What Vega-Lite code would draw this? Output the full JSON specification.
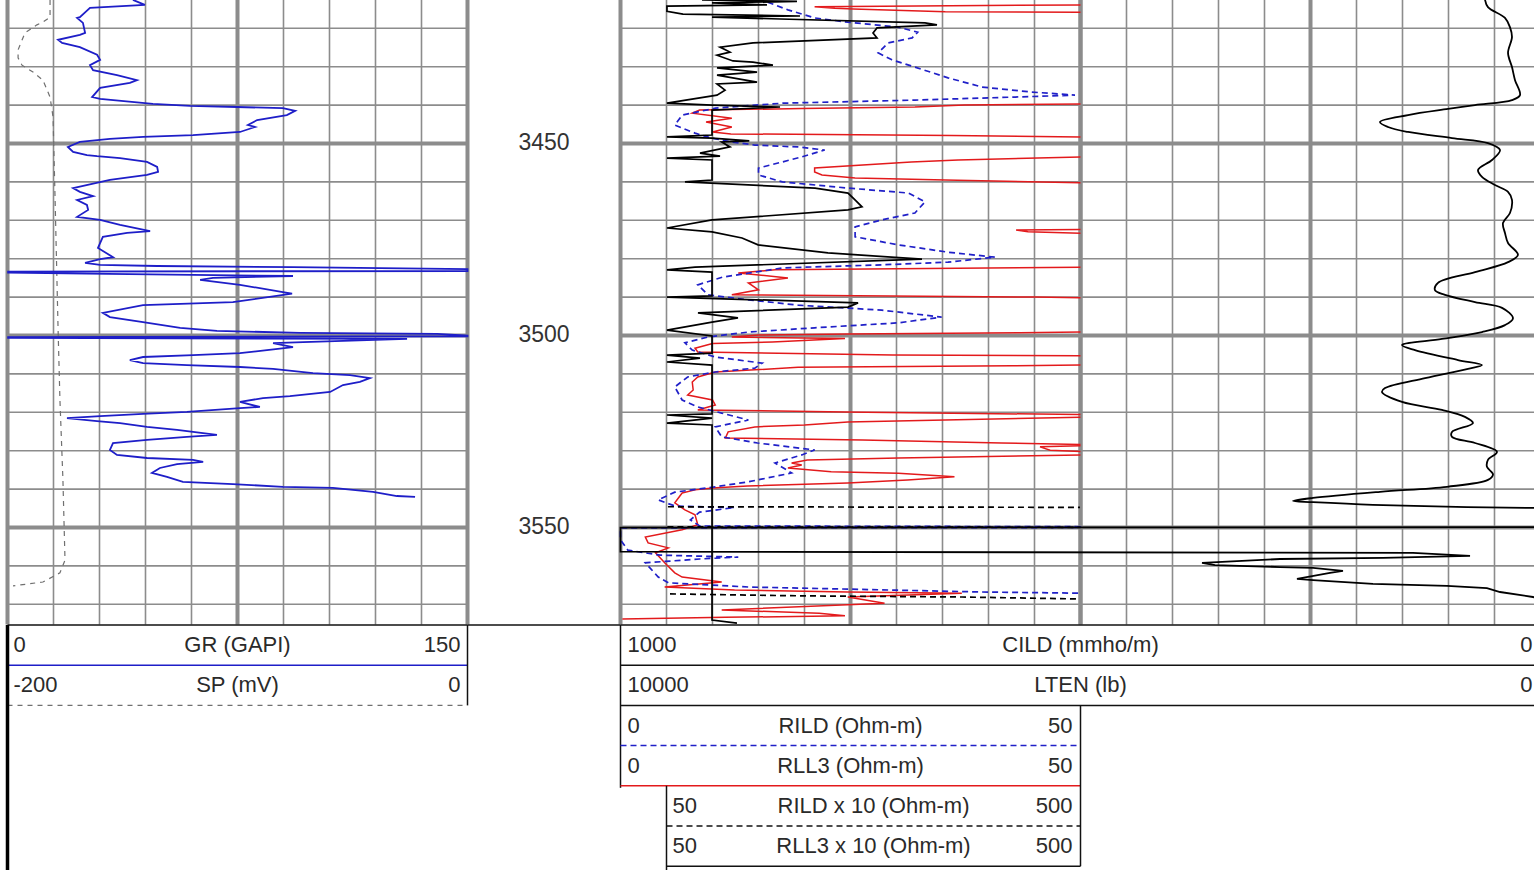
{
"$schema":"https://vega.github.io/schema/vega-lite/v6.json",
"width":1534,"height":870,"autosize":"none","padding":0,"background":"white",
"config":{"view":{"stroke":null},"text":{"font":"Liberation Sans"}},
"datasets":{
"gr":[{"depth":3412.6,"GR":40.9},{"depth":3413.9,"GR":44.8},{"depth":3414.7,"GR":26.9},{"depth":3417.1,"GR":23.6},{"depth":3417.3,"GR":22.7},{"depth":3418.6,"GR":24.6},{"depth":3421.2,"GR":25.3},{"depth":3421.7,"GR":23.6},{"depth":3423.0,"GR":16.5},{"depth":3423.8,"GR":17.8},{"depth":3424.9,"GR":23.6},{"depth":3426.9,"GR":29.2},{"depth":3428.2,"GR":30.2},{"depth":3429.6,"GR":26.9},{"depth":3430.9,"GR":27.9},{"depth":3432.2,"GR":35.7},{"depth":3433.5,"GR":42.2},{"depth":3434.2,"GR":39.9},{"depth":3435.5,"GR":30.2},{"depth":3437.9,"GR":27.6},{"depth":3438.4,"GR":30.2},{"depth":3439.7,"GR":47.4},{"depth":3440.2,"GR":59.5},{"depth":3440.5,"GR":74.8},{"depth":3440.8,"GR":89.8},{"depth":3441.5,"GR":93.8},{"depth":3442.6,"GR":91.1},{"depth":3443.9,"GR":81.4},{"depth":3445.2,"GR":78.4},{"depth":3445.7,"GR":80.7},{"depth":3447.0,"GR":75.8},{"depth":3447.8,"GR":60.5},{"depth":3448.3,"GR":44.2},{"depth":3448.8,"GR":33.4},{"depth":3449.6,"GR":23.6},{"depth":3450.9,"GR":19.7},{"depth":3452.2,"GR":21.4},{"depth":3453.0,"GR":25.9},{"depth":3453.3,"GR":29.2},{"depth":3453.8,"GR":36.7},{"depth":3454.8,"GR":45.5},{"depth":3456.1,"GR":48.8},{"depth":3457.4,"GR":49.1},{"depth":3458.2,"GR":45.5},{"depth":3459.5,"GR":33.4},{"depth":3461.6,"GR":21.4},{"depth":3462.6,"GR":23.6},{"depth":3463.7,"GR":27.9},{"depth":3464.7,"GR":22.7},{"depth":3466.0,"GR":25.9},{"depth":3467.3,"GR":26.3},{"depth":3469.1,"GR":22.7},{"depth":3469.9,"GR":30.2},{"depth":3471.2,"GR":36.7},{"depth":3472.8,"GR":46.5},{"depth":3473.3,"GR":39.0},{"depth":3474.3,"GR":31.1},{"depth":3477.2,"GR":29.5},{"depth":3479.6,"GR":34.4},{"depth":3480.1,"GR":30.2},{"depth":3481.1,"GR":25.3},{"depth":3481.6,"GR":30.2},{"depth":3481.9,"GR":48.8},{"depth":3482.2,"GR":93.1},{"depth":3482.7,"GR":155},{"depth":3483.2,"GR":155},{"depth":3483.35,"GR":0.2},{"depth":3483.6,"GR":0.2},{"depth":3483.9,"GR":25.9},{"depth":3484.5,"GR":93.1},{"depth":3485.0,"GR":67.0},{"depth":3485.5,"GR":62.8},{"depth":3486.8,"GR":75.8},{"depth":3488.7,"GR":89.8},{"depth":3489.1,"GR":92.8},{"depth":3491.3,"GR":73.5},{"depth":3492.1,"GR":44.2},{"depth":3494.1,"GR":31.1},{"depth":3495.2,"GR":33.4},{"depth":3496.5,"GR":44.2},{"depth":3498.0,"GR":56.3},{"depth":3498.8,"GR":68.3},{"depth":3499.3,"GR":95.4},{"depth":3499.6,"GR":140.1},{"depth":3500.0,"GR":155},{"depth":3500.2,"GR":155},{"depth":3500.4,"GR":0.2},{"depth":3500.6,"GR":0.2},{"depth":3500.9,"GR":130.3},{"depth":3501.7,"GR":96.4},{"depth":3502.0,"GR":86.6},{"depth":3502.5,"GR":89.8},{"depth":3503.0,"GR":93.1},{"depth":3503.8,"GR":84.6},{"depth":3504.6,"GR":75.8},{"depth":3505.1,"GR":60.5},{"depth":3505.6,"GR":44.2},{"depth":3506.4,"GR":39.9},{"depth":3507.2,"GR":44.2},{"depth":3507.7,"GR":58.5},{"depth":3508.2,"GR":75.8},{"depth":3508.7,"GR":86.6},{"depth":3509.8,"GR":99.6},{"depth":3510.3,"GR":111.7},{"depth":3511.1,"GR":118.2},{"depth":3512.1,"GR":114.9},{"depth":3512.9,"GR":109.4},{"depth":3514.7,"GR":105.2},{"depth":3515.8,"GR":92.1},{"depth":3516.3,"GR":83.3},{"depth":3517.3,"GR":75.8},{"depth":3518.6,"GR":82.3},{"depth":3518.9,"GR":75.8},{"depth":3519.9,"GR":58.5},{"depth":3520.4,"GR":44.2},{"depth":3521.0,"GR":30.2},{"depth":3521.5,"GR":19.4},{"depth":3522.3,"GR":29.2},{"depth":3522.8,"GR":36.7},{"depth":3523.8,"GR":45.5},{"depth":3524.6,"GR":55.3},{"depth":3525.9,"GR":68.3},{"depth":3526.4,"GR":58.5},{"depth":3527.2,"GR":45.5},{"depth":3528.0,"GR":34.4},{"depth":3529.8,"GR":33.4},{"depth":3531.1,"GR":35.7},{"depth":3531.9,"GR":45.5},{"depth":3532.4,"GR":60.5},{"depth":3532.9,"GR":63.8},{"depth":3533.5,"GR":55.3},{"depth":3534.5,"GR":49.7},{"depth":3535.8,"GR":47.1},{"depth":3536.8,"GR":52.0},{"depth":3538.1,"GR":57.2},{"depth":3538.7,"GR":73.5},{"depth":3539.4,"GR":89.8},{"depth":3539.7,"GR":106.1},{"depth":3540.7,"GR":119.2},{"depth":3541.8,"GR":127.0},{"depth":3542.0,"GR":132.9}],
"sp":[{"depth":3412.6,"SP":-181.5},{"depth":3417.1,"SP":-181.5},{"depth":3418.4,"SP":-184.6},{"depth":3419.1,"SP":-187.2},{"depth":3421.2,"SP":-192.4},{"depth":3425.6,"SP":-195.4},{"depth":3427.7,"SP":-195.4},{"depth":3429.6,"SP":-193.7},{"depth":3431.4,"SP":-188.9},{"depth":3433.5,"SP":-184.6},{"depth":3437.9,"SP":-181.5},{"depth":3443.1,"SP":-180.2},{"depth":3464.7,"SP":-179.3},{"depth":3498.6,"SP":-178.0},{"depth":3516.8,"SP":-177.2},{"depth":3537.6,"SP":-175.9},{"depth":3558.5,"SP":-175.0},{"depth":3561.8,"SP":-177.2},{"depth":3564.2,"SP":-184.6},{"depth":3565.2,"SP":-197.6}],
"rild":[{"depth":3413.2,"RILD":16.0},{"depth":3415.2,"RILD":18.2},{"depth":3417.3,"RILD":21.1},{"depth":3418.4,"RILD":24.7},{"depth":3419.7,"RILD":30.2},{"depth":3421.0,"RILD":32.3},{"depth":3422.5,"RILD":31.7},{"depth":3423.8,"RILD":29.1},{"depth":3426.4,"RILD":28.0},{"depth":3428.2,"RILD":29.5},{"depth":3430.1,"RILD":32.0},{"depth":3432.9,"RILD":35.6},{"depth":3435.3,"RILD":39.3},{"depth":3436.6,"RILD":44.7},{"depth":3437.4,"RILD":49.4},{"depth":3437.9,"RILD":42.9},{"depth":3438.7,"RILD":32.0},{"depth":3439.5,"RILD":17.6},{"depth":3440.8,"RILD":10.3},{"depth":3442.6,"RILD":6.7},{"depth":3445.2,"RILD":5.9},{"depth":3447.3,"RILD":8.1},{"depth":3448.6,"RILD":9.9},{"depth":3449.6,"RILD":12.1},{"depth":3450.4,"RILD":14.6},{"depth":3450.9,"RILD":19.3},{"depth":3451.7,"RILD":22.2},{"depth":3453.5,"RILD":19.7},{"depth":3454.8,"RILD":17.6},{"depth":3456.4,"RILD":15.0},{"depth":3458.2,"RILD":15.0},{"depth":3460.0,"RILD":17.6},{"depth":3461.6,"RILD":24.7},{"depth":3462.9,"RILD":31.3},{"depth":3465.2,"RILD":33.1},{"depth":3468.1,"RILD":32.0},{"depth":3469.9,"RILD":28.4},{"depth":3471.7,"RILD":25.5},{"depth":3474.3,"RILD":25.5},{"depth":3476.4,"RILD":30.2},{"depth":3478.3,"RILD":35.6},{"depth":3479.6,"RILD":40.7},{"depth":3480.9,"RILD":35.6},{"depth":3481.6,"RILD":28.4},{"depth":3482.4,"RILD":17.6},{"depth":3484.8,"RILD":11.1},{"depth":3486.8,"RILD":8.4},{"depth":3489.4,"RILD":9.5},{"depth":3490.7,"RILD":13.9},{"depth":3492.1,"RILD":19.3},{"depth":3493.4,"RILD":28.4},{"depth":3495.2,"RILD":34.9},{"depth":3496.7,"RILD":30.2},{"depth":3498.0,"RILD":21.1},{"depth":3499.1,"RILD":13.9},{"depth":3500.4,"RILD":9.5},{"depth":3501.9,"RILD":7.0},{"depth":3503.8,"RILD":7.8},{"depth":3505.6,"RILD":10.3},{"depth":3507.2,"RILD":15.4},{"depth":3508.5,"RILD":14.6},{"depth":3509.5,"RILD":10.3},{"depth":3510.8,"RILD":7.3},{"depth":3513.4,"RILD":5.9},{"depth":3516.8,"RILD":6.7},{"depth":3518.6,"RILD":8.4},{"depth":3520.2,"RILD":11.0},{"depth":3522.0,"RILD":13.9},{"depth":3523.8,"RILD":10.3},{"depth":3526.4,"RILD":11.0},{"depth":3528.0,"RILD":14.9},{"depth":3529.8,"RILD":21.1},{"depth":3531.1,"RILD":19.7},{"depth":3533.2,"RILD":16.8},{"depth":3535.8,"RILD":18.6},{"depth":3538.1,"RILD":13.9},{"depth":3539.4,"RILD":10.3},{"depth":3540.8,"RILD":5.9},{"depth":3542.8,"RILD":4.1},{"depth":3544.4,"RILD":5.9},{"depth":3544.7,"RILD":10.3},{"depth":3544.8,"RILD":12.4},{"depth":3546.0,"RILD":8.6},{"depth":3548.0,"RILD":7.6},{"depth":3549.6,"RILD":8.6},{"depth":3549.8,"RILD":51},{"depth":3550.0,"RILD":51},{"depth":3550.1,"RILD":0},{"depth":3553.2,"RILD":0},{"depth":3555.9,"RILD":0.8},{"depth":3557.2,"RILD":4.3},{"depth":3557.7,"RILD":12.8},{"depth":3558.2,"RILD":8.6},{"depth":3559.2,"RILD":2.7},{"depth":3562.9,"RILD":4.1},{"depth":3564.4,"RILD":5.2},{"depth":3565.5,"RILD":13.9},{"depth":3565.9,"RILD":21.9},{"depth":3566.8,"RILD":39.3},{"depth":3567.1,"RILD":49.9},{"depth":3567.3,"RILD":51}],
"rll3":[{"seg":"A","depth":3413.9,"RLL3":50},{"seg":"A","depth":3414.4,"RLL3":21.1},{"seg":"A","depth":3414.8,"RLL3":23.3},{"seg":"A","depth":3415.0,"RLL3":25.3},{"seg":"A","depth":3415.7,"RLL3":35.3},{"seg":"A","depth":3415.85,"RLL3":50},
{"seg":"B","depth":3439.7,"RLL3":50},{"seg":"B","depth":3440.0,"RLL3":37.4},{"seg":"B","depth":3440.5,"RLL3":32.0},{"seg":"B","depth":3440.9,"RLL3":19.7},{"seg":"B","depth":3441.3,"RLL3":8.6},{"seg":"B","depth":3442.1,"RLL3":7.8},{"seg":"B","depth":3443.4,"RLL3":12.1},{"seg":"B","depth":3444.4,"RLL3":9.3},{"seg":"B","depth":3445.7,"RLL3":12.1},{"seg":"B","depth":3447.0,"RLL3":10.0},{"seg":"B","depth":3447.5,"RLL3":12.0},{"seg":"B","depth":3447.9,"RLL3":36.0},{"seg":"B","depth":3448.3,"RLL3":50},
{"seg":"C","depth":3453.5,"RLL3":50},{"seg":"C","depth":3454.3,"RLL3":36.7},{"seg":"C","depth":3454.8,"RLL3":31.6},{"seg":"C","depth":3456.4,"RLL3":21.1},{"seg":"C","depth":3457.4,"RLL3":21.1},{"seg":"C","depth":3458.2,"RLL3":21.9},{"seg":"C","depth":3459.0,"RLL3":25.5},{"seg":"C","depth":3459.5,"RLL3":35.3},{"seg":"C","depth":3460.2,"RLL3":50},
{"seg":"D","depth":3472.4,"RLL3":50},{"seg":"D","depth":3472.5,"RLL3":43.0},{"seg":"D","depth":3473.0,"RLL3":44.3},{"seg":"D","depth":3473.4,"RLL3":50},
{"seg":"E","depth":3482.2,"RLL3":50},{"seg":"E","depth":3482.9,"RLL3":16.8},{"seg":"E","depth":3483.7,"RLL3":12.8},{"seg":"E","depth":3485.0,"RLL3":18.2},{"seg":"E","depth":3486.3,"RLL3":13.9},{"seg":"E","depth":3488.1,"RLL3":15.0},{"seg":"E","depth":3489.4,"RLL3":12.1},{"seg":"E","depth":3490.0,"RLL3":45.1},{"seg":"E","depth":3490.2,"RLL3":50},
{"seg":"F","depth":3499.1,"RLL3":50},{"seg":"F","depth":3499.3,"RLL3":43.4},{"seg":"F","depth":3499.6,"RLL3":24.7},{"seg":"F","depth":3499.9,"RLL3":15.0},{"seg":"F","depth":3500.4,"RLL3":12.1},{"seg":"F","depth":3500.8,"RLL3":24.4},{"seg":"F","depth":3501.7,"RLL3":16.5},{"seg":"F","depth":3502.1,"RLL3":10.0},{"seg":"F","depth":3503.3,"RLL3":8.1},{"seg":"F","depth":3504.3,"RLL3":8.4},{"seg":"F","depth":3505.1,"RLL3":29.6},{"seg":"F","depth":3505.3,"RLL3":50},
{"seg":"G","depth":3507.7,"RLL3":50},{"seg":"G","depth":3507.9,"RLL3":42.6},{"seg":"G","depth":3508.3,"RLL3":19.3},{"seg":"G","depth":3509.5,"RLL3":10.3},{"seg":"G","depth":3510.8,"RLL3":8.4},{"seg":"G","depth":3512.1,"RLL3":7.8},{"seg":"G","depth":3514.2,"RLL3":7.9},{"seg":"G","depth":3515.5,"RLL3":7.3},{"seg":"G","depth":3516.8,"RLL3":10.0},{"seg":"G","depth":3518.1,"RLL3":10.3},{"seg":"G","depth":3519.4,"RLL3":8.4},{"seg":"G","depth":3519.9,"RLL3":24.4},{"seg":"G","depth":3520.6,"RLL3":50},
{"seg":"H","depth":3521.3,"RLL3":50},{"seg":"H","depth":3522.5,"RLL3":24.7},{"seg":"H","depth":3523.3,"RLL3":20.0},{"seg":"H","depth":3523.8,"RLL3":14.6},{"seg":"H","depth":3525.1,"RLL3":11.7},{"seg":"H","depth":3526.7,"RLL3":11.4},{"seg":"H","depth":3527.2,"RLL3":26.3},{"seg":"H","depth":3528.0,"RLL3":41.4},{"seg":"H","depth":3528.4,"RLL3":50},
{"seg":"I","depth":3528.7,"RLL3":50},{"seg":"I","depth":3529.0,"RLL3":45.6},{"seg":"I","depth":3529.9,"RLL3":46.7},{"seg":"I","depth":3530.2,"RLL3":50},
{"seg":"J","depth":3531.1,"RLL3":50},{"seg":"J","depth":3531.9,"RLL3":30.2},{"seg":"J","depth":3532.4,"RLL3":20.3},{"seg":"J","depth":3533.2,"RLL3":18.6},{"seg":"J","depth":3533.7,"RLL3":19.7},{"seg":"J","depth":3534.5,"RLL3":18.2},{"seg":"J","depth":3535.5,"RLL3":22.9},{"seg":"J","depth":3535.9,"RLL3":30.2},{"seg":"J","depth":3536.8,"RLL3":36.3},{"seg":"J","depth":3537.6,"RLL3":31.2},{"seg":"J","depth":3538.4,"RLL3":24.7},{"seg":"J","depth":3539.2,"RLL3":13.8},{"seg":"J","depth":3539.7,"RLL3":10.0},{"seg":"J","depth":3540.2,"RLL3":8.1},{"seg":"J","depth":3541.0,"RLL3":6.7},{"seg":"J","depth":3543.6,"RLL3":5.9},{"seg":"J","depth":3545.4,"RLL3":7.0},{"seg":"J","depth":3546.7,"RLL3":8.1},{"seg":"J","depth":3549.3,"RLL3":8.4},{"seg":"J","depth":3550.6,"RLL3":6.7},{"seg":"J","depth":3552.5,"RLL3":2.7},{"seg":"J","depth":3554.0,"RLL3":3.0},{"seg":"J","depth":3555.3,"RLL3":5.2},{"seg":"J","depth":3556.6,"RLL3":3.8},{"seg":"J","depth":3559.2,"RLL3":4.8},{"seg":"J","depth":3561.8,"RLL3":5.9},{"seg":"J","depth":3562.9,"RLL3":6.7},{"seg":"J","depth":3564.2,"RLL3":11.0},{"seg":"J","depth":3565.5,"RLL3":4.8},{"seg":"J","depth":3566.3,"RLL3":12.4},{"seg":"J","depth":3566.8,"RLL3":24.7},{"seg":"J","depth":3567.1,"RLL3":37.1},{"seg":"J","depth":3568.1,"RLL3":24.7},{"seg":"J","depth":3569.7,"RLL3":28.7},{"seg":"J","depth":3571.5,"RLL3":11.0},{"seg":"J","depth":3572.3,"RLL3":21.6},{"seg":"J","depth":3573.0,"RLL3":24.4},{"seg":"J","depth":3573.4,"RLL3":11.4},{"seg":"J","depth":3573.8,"RLL3":0.2}],
"backup":[{"curve":"RILD x 10","seg":1,"depth":3544.6,"value":51.6},{"curve":"RILD x 10","seg":1,"depth":3544.75,"value":499.5},{"curve":"RILD x 10","seg":2,"depth":3549.85,"value":51},{"curve":"RILD x 10","seg":2,"depth":3549.95,"value":500},{"curve":"RLL3 x 10","seg":3,"depth":3567.3,"value":53.8},{"curve":"RLL3 x 10","seg":3,"depth":3567.8,"value":197.3},{"curve":"RLL3 x 10","seg":3,"depth":3568.1,"value":371.2},{"curve":"RLL3 x 10","seg":3,"depth":3568.6,"value":497.3}],
"lten":[{"depth":3412.6,"LTEN":9114},{"depth":3413.0,"LTEN":8082},{"depth":3413.4,"LTEN":9005},{"depth":3413.9,"LTEN":8408},{"depth":3414.2,"LTEN":9495},{"depth":3415.6,"LTEN":9495},{"depth":3416.3,"LTEN":9321},{"depth":3416.8,"LTEN":8049},{"depth":3417.1,"LTEN":9005},{"depth":3418.6,"LTEN":6690},{"depth":3419.1,"LTEN":6560},{"depth":3419.9,"LTEN":7212},{"depth":3421.2,"LTEN":7255},{"depth":3422.5,"LTEN":7212},{"depth":3423.8,"LTEN":8560},{"depth":3424.9,"LTEN":8918},{"depth":3426.2,"LTEN":8810},{"depth":3427.0,"LTEN":8951},{"depth":3428.5,"LTEN":8777},{"depth":3428.8,"LTEN":8560},{"depth":3429.6,"LTEN":8343},{"depth":3430.3,"LTEN":8951},{"depth":3431.4,"LTEN":8516},{"depth":3432.2,"LTEN":8951},{"depth":3434.0,"LTEN":8516},{"depth":3434.5,"LTEN":8951},{"depth":3436.1,"LTEN":8864},{"depth":3437.4,"LTEN":8951},{"depth":3439.5,"LTEN":9495},{"depth":3440.0,"LTEN":9005},{"depth":3440.5,"LTEN":8266},{"depth":3441.3,"LTEN":9005},{"depth":3447.8,"LTEN":9005},{"depth":3448.3,"LTEN":9495},{"depth":3448.6,"LTEN":9005},{"depth":3449.3,"LTEN":8600},{"depth":3449.6,"LTEN":8900},{"depth":3450.9,"LTEN":8810},{"depth":3452.5,"LTEN":9136},{"depth":3453.3,"LTEN":8918},{"depth":3453.8,"LTEN":9495},{"depth":3454.3,"LTEN":9005},{"depth":3459.5,"LTEN":9005},{"depth":3460.0,"LTEN":9299},{"depth":3461.6,"LTEN":7886},{"depth":3462.9,"LTEN":7527},{"depth":3464.7,"LTEN":7451},{"depth":3466.5,"LTEN":7375},{"depth":3467.3,"LTEN":7527},{"depth":3469.9,"LTEN":9005},{"depth":3472.0,"LTEN":9495},{"depth":3473.0,"LTEN":9005},{"depth":3474.6,"LTEN":8679},{"depth":3476.4,"LTEN":8505},{"depth":3478.5,"LTEN":7745},{"depth":3480.1,"LTEN":6723},{"depth":3482.2,"LTEN":9190},{"depth":3482.9,"LTEN":9495},{"depth":3483.5,"LTEN":9005},{"depth":3489.7,"LTEN":9005},{"depth":3490.0,"LTEN":9495},{"depth":3491.5,"LTEN":7418},{"depth":3492.6,"LTEN":7527},{"depth":3494.1,"LTEN":9158},{"depth":3495.4,"LTEN":8723},{"depth":3496.5,"LTEN":9005},{"depth":3498.6,"LTEN":9495},{"depth":3500.1,"LTEN":9005},{"depth":3504.6,"LTEN":9005},{"depth":3505.1,"LTEN":9495},{"depth":3505.9,"LTEN":9136},{"depth":3506.9,"LTEN":9495},{"depth":3507.7,"LTEN":9005},{"depth":3520.4,"LTEN":9005},{"depth":3520.7,"LTEN":9495},{"depth":3521.5,"LTEN":9005},{"depth":3522.8,"LTEN":9495},{"depth":3523.3,"LTEN":9005},{"depth":3574.1,"LTEN":9005},{"depth":3574.9,"LTEN":8734}],
"cild":[{"depth":3412.6,"CILD":60.3},{"depth":3414.5,"CILD":57.1},{"depth":3417.3,"CILD":38.6},{"depth":3419.7,"CILD":33.2},{"depth":3422.3,"CILD":31.0},{"depth":3426.4,"CILD":35.3},{"depth":3430.1,"CILD":31.0},{"depth":3433.5,"CILD":27.7},{"depth":3437.4,"CILD":22.3},{"depth":3438.7,"CILD":31.0},{"depth":3440.0,"CILD":71.2},{"depth":3441.0,"CILD":100.5},{"depth":3442.6,"CILD":144.0},{"depth":3444.4,"CILD":174.5},{"depth":3445.7,"CILD":165.8},{"depth":3447.0,"CILD":144.0},{"depth":3448.6,"CILD":96.2},{"depth":3449.9,"CILD":57.1},{"depth":3451.7,"CILD":44.0},{"depth":3454.3,"CILD":52.7},{"depth":3456.9,"CILD":67.9},{"depth":3458.7,"CILD":63.6},{"depth":3460.8,"CILD":49.5},{"depth":3462.6,"CILD":35.3},{"depth":3464.7,"CILD":31.0},{"depth":3468.1,"CILD":33.2},{"depth":3470.7,"CILD":40.8},{"depth":3473.3,"CILD":38.6},{"depth":3475.9,"CILD":35.3},{"depth":3479.0,"CILD":24.5},{"depth":3480.9,"CILD":35.3},{"depth":3483.5,"CILD":71.2},{"depth":3486.3,"CILD":111.4},{"depth":3488.2,"CILD":114.7},{"depth":3489.4,"CILD":103.8},{"depth":3491.3,"CILD":71.2},{"depth":3492.8,"CILD":41.8},{"depth":3495.5,"CILD":29.9},{"depth":3497.3,"CILD":38.6},{"depth":3499.1,"CILD":63.6},{"depth":3500.9,"CILD":107.1},{"depth":3502.5,"CILD":150.5},{"depth":3503.8,"CILD":136.4},{"depth":3506.4,"CILD":89.7},{"depth":3507.7,"CILD":63.6},{"depth":3508.7,"CILD":78.8},{"depth":3511.1,"CILD":125.5},{"depth":3513.7,"CILD":169.0},{"depth":3514.7,"CILD":172.3},{"depth":3517.3,"CILD":150.5},{"depth":3519.4,"CILD":107.1},{"depth":3521.2,"CILD":82.1},{"depth":3522.8,"CILD":73.4},{"depth":3525.1,"CILD":96.2},{"depth":3526.4,"CILD":96.2},{"depth":3528.0,"CILD":71.2},{"depth":3530.3,"CILD":47.3},{"depth":3532.4,"CILD":57.1},{"depth":3534.2,"CILD":58.2},{"depth":3536.2,"CILD":51.6},{"depth":3537.6,"CILD":57.1},{"depth":3539.4,"CILD":101.6},{"depth":3540.7,"CILD":174.5},{"depth":3542.3,"CILD":247.3},{"depth":3543.1,"CILD":269.0},{"depth":3543.4,"CILD":247.3},{"depth":3544.1,"CILD":182.1},{"depth":3544.7,"CILD":79.9},{"depth":3544.9,"CILD":8.2},{"depth":3545.0,"CILD":-5},{"depth":3549.9,"CILD":-5},{"depth":3550.05,"CILD":1005},{"depth":3556.3,"CILD":1005},{"depth":3556.6,"CILD":138.6},{"depth":3557.4,"CILD":76.6},{"depth":3557.9,"CILD":171.2},{"depth":3558.2,"CILD":283.2},{"depth":3559.2,"CILD":367.9},{"depth":3559.8,"CILD":353.8},{"depth":3560.3,"CILD":283.2},{"depth":3560.5,"CILD":247.3},{"depth":3561.3,"CILD":214.7},{"depth":3561.8,"CILD":228.8},{"depth":3563.4,"CILD":264.7},{"depth":3563.7,"CILD":247.3},{"depth":3564.7,"CILD":182.1},{"depth":3565.2,"CILD":101.6},{"depth":3565.8,"CILD":58.2},{"depth":3566.8,"CILD":44.0},{"depth":3568.1,"CILD":8.2},{"depth":3568.5,"CILD":-5}],
"gGR":[{"v":0,"major":true},{"v":15,"major":false},{"v":30,"major":false},{"v":45,"major":false},{"v":60,"major":false},{"v":75,"major":true},{"v":90,"major":false},{"v":105,"major":false},{"v":120,"major":false},{"v":135,"major":false},{"v":150,"major":true}],
"gR":[{"v":0,"major":true},{"v":5,"major":false},{"v":10,"major":false},{"v":15,"major":false},{"v":20,"major":false},{"v":25,"major":true},{"v":30,"major":false},{"v":35,"major":false},{"v":40,"major":false},{"v":45,"major":false},{"v":50,"major":true}],
"gC":[{"v":500,"major":true},{"v":450,"major":false},{"v":400,"major":false},{"v":350,"major":false},{"v":300,"major":false},{"v":250,"major":true},{"v":200,"major":false},{"v":150,"major":false},{"v":100,"major":false},{"v":50,"major":false},{"v":0,"major":true}],
"gD":[{"depth":3420,"major":false},{"depth":3430,"major":false},{"depth":3440,"major":false},{"depth":3450,"major":true},{"depth":3460,"major":false},{"depth":3470,"major":false},{"depth":3480,"major":false},{"depth":3490,"major":false},{"depth":3500,"major":true},{"depth":3510,"major":false},{"depth":3520,"major":false},{"depth":3530,"major":false},{"depth":3540,"major":false},{"depth":3550,"major":true},{"depth":3560,"major":false},{"depth":3570,"major":false}],
"depthLbl":[{"depth":3450},{"depth":3500},{"depth":3550}],
"htext":[{"s":"GR","v":0,"row":0.5,"t":"0","p":"lo"},{"s":"GR","v":75,"row":0.5,"t":"GR (GAPI)","p":"mid"},{"s":"GR","v":150,"row":0.5,"t":"150","p":"hi"},
{"s":"SP","v":-200,"row":1.5,"t":"-200","p":"lo"},{"s":"SP","v":-100,"row":1.5,"t":"SP (mV)","p":"mid"},{"s":"SP","v":0,"row":1.5,"t":"0","p":"hi"},
{"s":"CILD","v":1000,"row":0.5,"t":"1000","p":"lo"},{"s":"CILD","v":500,"row":0.5,"t":"CILD (mmho/m)","p":"mid"},{"s":"CILD","v":0,"row":0.5,"t":"0","p":"hi"},
{"s":"LTEN","v":10000,"row":1.5,"t":"10000","p":"lo"},{"s":"LTEN","v":5000,"row":1.5,"t":"LTEN (lb)","p":"mid"},{"s":"LTEN","v":0,"row":1.5,"t":"0","p":"hi"},
{"s":"R","v":0,"row":2.5,"t":"0","p":"lo"},{"s":"R","v":25,"row":2.5,"t":"RILD (Ohm-m)","p":"mid"},{"s":"R","v":50,"row":2.5,"t":"50","p":"hi"},
{"s":"R","v":0,"row":3.5,"t":"0","p":"lo"},{"s":"R","v":25,"row":3.5,"t":"RLL3 (Ohm-m)","p":"mid"},{"s":"R","v":50,"row":3.5,"t":"50","p":"hi"},
{"s":"R10","v":50,"row":4.5,"t":"50","p":"lo"},{"s":"R10","v":275,"row":4.5,"t":"RILD x 10 (Ohm-m)","p":"mid"},{"s":"R10","v":500,"row":4.5,"t":"500","p":"hi"},
{"s":"R10","v":50,"row":5.5,"t":"50","p":"lo"},{"s":"R10","v":275,"row":5.5,"t":"RLL3 x 10 (Ohm-m)","p":"mid"},{"s":"R10","v":500,"row":5.5,"t":"500","p":"hi"}],
"one":[{"k":1}],
"cRows":[{"row":0},{"row":1},{"row":2}]
},
"layer":[
{"data":{"name":"gGR"},"mark":{"type":"rule","color":"#8c8c8c"},"encoding":{"x":{"field":"v","type":"quantitative","axis":null,"scale":{"domain":[0,150],"range":[7.5,467.5],"nice":false,"zero":false}},"y":{"datum":3412.63,"type":"quantitative","axis":null,"scale":{"domain":[3412.63,3575.26],"range":[0,624.5],"nice":false,"zero":false}},"y2":{"datum":3575.26},"strokeWidth":{"condition":{"test":"datum.major","value":4},"value":1.6}}},
{"data":{"name":"gR"},"mark":{"type":"rule","color":"#8c8c8c"},"encoding":{"x":{"field":"v","type":"quantitative","axis":null,"scale":{"domain":[0,50],"range":[620.5,1080.5],"nice":false,"zero":false}},"y":{"datum":3412.63,"type":"quantitative","axis":null,"scale":{"domain":[3412.63,3575.26],"range":[0,624.5],"nice":false,"zero":false}},"y2":{"datum":3575.26},"strokeWidth":{"condition":{"test":"datum.major","value":4},"value":1.6}}},
{"data":{"name":"gC"},"mark":{"type":"rule","color":"#8c8c8c"},"encoding":{"x":{"field":"v","type":"quantitative","axis":null,"scale":{"domain":[1000,0],"range":[620.5,1540.5],"nice":false,"zero":false}},"y":{"datum":3412.63,"type":"quantitative","axis":null,"scale":{"domain":[3412.63,3575.26],"range":[0,624.5],"nice":false,"zero":false}},"y2":{"datum":3575.26},"strokeWidth":{"condition":{"test":"datum.major","value":4},"value":1.6}}},
{"data":{"name":"gD"},"mark":{"type":"rule","color":"#8c8c8c"},"encoding":{"y":{"field":"depth","type":"quantitative","axis":null,"scale":{"domain":[3412.63,3575.26],"range":[0,624.5],"nice":false,"zero":false}},"x":{"datum":0,"type":"quantitative","axis":null,"scale":{"domain":[0,150],"range":[7.5,467.5],"nice":false,"zero":false}},"x2":{"datum":150},"strokeWidth":{"condition":{"test":"datum.major","value":4},"value":1.6}}},
{"data":{"name":"gD"},"mark":{"type":"rule","color":"#8c8c8c"},"encoding":{"y":{"field":"depth","type":"quantitative","axis":null,"scale":{"domain":[3412.63,3575.26],"range":[0,624.5],"nice":false,"zero":false}},"x":{"datum":1000,"type":"quantitative","axis":null,"scale":{"domain":[1000,0],"range":[620.5,1540.5],"nice":false,"zero":false}},"x2":{"datum":0},"strokeWidth":{"condition":{"test":"datum.major","value":4},"value":1.6}}},
{"data":{"name":"sp"},"mark":{"type":"line","color":"#707070","strokeWidth":1.2,"strokeDash":[5,5]},"encoding":{"x":{"field":"SP","type":"quantitative","axis":null,"scale":{"domain":[-200,0],"range":[7.5,467.5],"nice":false,"zero":false}},"y":{"field":"depth","type":"quantitative","axis":null,"scale":{"domain":[3412.63,3575.26],"range":[0,624.5],"nice":false,"zero":false}},"order":{"field":"depth","type":"quantitative"}}},
{"data":{"name":"gr"},"mark":{"type":"line","color":"#1e1ec8","strokeWidth":1.8},"encoding":{"x":{"field":"GR","type":"quantitative","axis":null,"scale":{"domain":[0,150],"range":[7.5,467.5],"nice":false,"zero":false,"clamp":true}},"y":{"field":"depth","type":"quantitative","axis":null,"scale":{"domain":[3412.63,3575.26],"range":[0,624.5],"nice":false,"zero":false}},"order":{"field":"depth","type":"quantitative"}}},
{"data":{"name":"rll3"},"mark":{"type":"line","color":"#e31a1c","strokeWidth":1.5},"encoding":{"x":{"field":"RLL3","type":"quantitative","axis":null,"scale":{"domain":[0,50],"range":[620.5,1080.5],"nice":false,"zero":false,"clamp":true}},"y":{"field":"depth","type":"quantitative","axis":null,"scale":{"domain":[3412.63,3575.26],"range":[0,624.5],"nice":false,"zero":false}},"detail":{"field":"seg","type":"nominal"},"order":{"field":"depth","type":"quantitative"}}},
{"data":{"name":"rild"},"mark":{"type":"line","color":"#2020c8","strokeWidth":1.7,"strokeDash":[6,4]},"encoding":{"x":{"field":"RILD","type":"quantitative","axis":null,"scale":{"domain":[0,50],"range":[620.5,1080.5],"nice":false,"zero":false,"clamp":true}},"y":{"field":"depth","type":"quantitative","axis":null,"scale":{"domain":[3412.63,3575.26],"range":[0,624.5],"nice":false,"zero":false}},"order":{"field":"depth","type":"quantitative"}}},
{"data":{"name":"backup"},"mark":{"type":"line","color":"#000","strokeWidth":1.7,"strokeDash":[6,4]},"encoding":{"x":{"field":"value","type":"quantitative","axis":null,"scale":{"domain":[50,500],"range":[666.5,1080.5],"nice":false,"zero":false,"clamp":true}},"y":{"field":"depth","type":"quantitative","axis":null,"scale":{"domain":[3412.63,3575.26],"range":[0,624.5],"nice":false,"zero":false}},"detail":{"field":"seg","type":"nominal"},"order":{"field":"depth","type":"quantitative"}}},
{"data":{"name":"lten"},"mark":{"type":"line","color":"#000","strokeWidth":1.7},"encoding":{"x":{"field":"LTEN","type":"quantitative","axis":null,"scale":{"domain":[10000,0],"range":[620.5,1540.5],"nice":false,"zero":false}},"y":{"field":"depth","type":"quantitative","axis":null,"scale":{"domain":[3412.63,3575.26],"range":[0,624.5],"nice":false,"zero":false}},"order":{"field":"depth","type":"quantitative"}}},
{"data":{"name":"cild"},"transform":[{"filter":"datum.depth <= 3544.7"}],"mark":{"type":"line","color":"#000","strokeWidth":1.8,"interpolate":"catmull-rom"},"encoding":{"x":{"field":"CILD","type":"quantitative","axis":null,"scale":{"domain":[1000,0],"range":[620.5,1540.5],"nice":false,"zero":false,"clamp":true}},"y":{"field":"depth","type":"quantitative","axis":null,"scale":{"domain":[3412.63,3575.26],"range":[0,624.5],"nice":false,"zero":false}},"order":{"field":"depth","type":"quantitative"}}},
{"data":{"name":"cild"},"transform":[{"filter":"datum.depth >= 3544.7"}],"mark":{"type":"line","color":"#000","strokeWidth":1.8},"encoding":{"x":{"field":"CILD","type":"quantitative","axis":null,"scale":{"domain":[1000,0],"range":[620.5,1540.5],"nice":false,"zero":false,"clamp":true}},"y":{"field":"depth","type":"quantitative","axis":null,"scale":{"domain":[3412.63,3575.26],"range":[0,624.5],"nice":false,"zero":false}},"order":{"field":"depth","type":"quantitative"}}},
{"data":{"name":"depthLbl"},"mark":{"type":"text","fontSize":23,"color":"#333","align":"center","baseline":"middle","dy":-1},"encoding":{"x":{"datum":0.5,"type":"quantitative","axis":null,"scale":{"domain":[0,1],"range":[467.5,620.5],"nice":false,"zero":false}},"y":{"field":"depth","type":"quantitative","axis":null,"scale":{"domain":[3412.63,3575.26],"range":[0,624.5],"nice":false,"zero":false}},"text":{"field":"depth","type":"quantitative","format":"d"}}},
{"data":{"name":"one"},"mark":{"type":"rule","color":"#111","strokeWidth":1.5},"encoding":{"x":{"datum":0,"type":"quantitative","axis":null,"scale":{"domain":[0,150],"range":[7.5,467.5],"nice":false,"zero":false}},"x2":{"datum":150},"y":{"datum":0,"type":"quantitative","axis":null,"scale":{"domain":[0,6.0945],"range":[625,870],"nice":false,"zero":false}}}},
{"data":{"name":"one"},"mark":{"type":"rule","color":"#111","strokeWidth":1.5},"encoding":{"x":{"datum":0,"type":"quantitative","axis":null,"scale":{"domain":[0,1],"range":[467.5,620.5],"nice":false,"zero":false}},"x2":{"datum":1},"y":{"datum":0,"type":"quantitative","axis":null,"scale":{"domain":[0,6.0945],"range":[625,870],"nice":false,"zero":false}}}},
{"data":{"name":"cRows"},"mark":{"type":"rule","color":"#111","strokeWidth":1.5},"encoding":{"x":{"datum":1000,"type":"quantitative","axis":null,"scale":{"domain":[1000,0],"range":[620.5,1540.5],"nice":false,"zero":false}},"x2":{"datum":0},"y":{"field":"row","type":"quantitative","axis":null,"scale":{"domain":[0,6.0945],"range":[625,870],"nice":false,"zero":false}}}},
{"data":{"name":"one"},"mark":{"type":"rule","color":"#1e1ec8","strokeWidth":1.5},"encoding":{"x":{"datum":0,"type":"quantitative","axis":null,"scale":{"domain":[0,150],"range":[7.5,467.5],"nice":false,"zero":false}},"x2":{"datum":150},"y":{"datum":1,"type":"quantitative","axis":null,"scale":{"domain":[0,6.0945],"range":[625,870],"nice":false,"zero":false}}}},
{"data":{"name":"one"},"mark":{"type":"rule","color":"#707070","strokeWidth":1.3,"strokeDash":[5,5]},"encoding":{"x":{"datum":0,"type":"quantitative","axis":null,"scale":{"domain":[0,150],"range":[7.5,467.5],"nice":false,"zero":false}},"x2":{"datum":150},"y":{"datum":2,"type":"quantitative","axis":null,"scale":{"domain":[0,6.0945],"range":[625,870],"nice":false,"zero":false}}}},
{"data":{"name":"one"},"mark":{"type":"rule","color":"#111","strokeWidth":1.5},"encoding":{"x":{"datum":150,"type":"quantitative","axis":null,"scale":{"domain":[0,150],"range":[7.5,467.5],"nice":false,"zero":false}},"y":{"datum":0,"type":"quantitative","axis":null,"scale":{"domain":[0,6.0945],"range":[625,870],"nice":false,"zero":false}},"y2":{"datum":2}}},
{"data":{"name":"one"},"mark":{"type":"rule","color":"#000","strokeWidth":3.5},"encoding":{"x":{"datum":0,"type":"quantitative","axis":null,"scale":{"domain":[0,150],"range":[7.5,467.5],"nice":false,"zero":false}},"y":{"datum":0,"type":"quantitative","axis":null,"scale":{"domain":[0,6.0945],"range":[625,870],"nice":false,"zero":false}},"y2":{"datum":6.0945}}},
{"data":{"name":"one"},"mark":{"type":"rule","color":"#111","strokeWidth":1.5},"encoding":{"x":{"datum":1000,"type":"quantitative","axis":null,"scale":{"domain":[1000,0],"range":[620.5,1540.5],"nice":false,"zero":false}},"y":{"datum":0,"type":"quantitative","axis":null,"scale":{"domain":[0,6.0945],"range":[625,870],"nice":false,"zero":false}},"y2":{"datum":4.05}}},
{"data":{"name":"one"},"mark":{"type":"rule","color":"#2020c8","strokeWidth":1.5,"strokeDash":[6,4]},"encoding":{"x":{"datum":0,"type":"quantitative","axis":null,"scale":{"domain":[0,50],"range":[620.5,1080.5],"nice":false,"zero":false}},"x2":{"datum":50},"y":{"datum":3,"type":"quantitative","axis":null,"scale":{"domain":[0,6.0945],"range":[625,870],"nice":false,"zero":false}}}},
{"data":{"name":"one"},"mark":{"type":"rule","color":"#e31a1c","strokeWidth":1.5},"encoding":{"x":{"datum":0,"type":"quantitative","axis":null,"scale":{"domain":[0,50],"range":[620.5,1080.5],"nice":false,"zero":false}},"x2":{"datum":50},"y":{"datum":4,"type":"quantitative","axis":null,"scale":{"domain":[0,6.0945],"range":[625,870],"nice":false,"zero":false}}}},
{"data":{"name":"one"},"mark":{"type":"rule","color":"#111","strokeWidth":1.5},"encoding":{"x":{"datum":50,"type":"quantitative","axis":null,"scale":{"domain":[0,50],"range":[620.5,1080.5],"nice":false,"zero":false}},"y":{"datum":2,"type":"quantitative","axis":null,"scale":{"domain":[0,6.0945],"range":[625,870],"nice":false,"zero":false}},"y2":{"datum":6}}},
{"data":{"name":"one"},"mark":{"type":"rule","color":"#111","strokeWidth":1.5,"strokeDash":[6,4]},"encoding":{"x":{"datum":50,"type":"quantitative","axis":null,"scale":{"domain":[50,500],"range":[666.5,1080.5],"nice":false,"zero":false}},"x2":{"datum":500},"y":{"datum":5,"type":"quantitative","axis":null,"scale":{"domain":[0,6.0945],"range":[625,870],"nice":false,"zero":false}}}},
{"data":{"name":"one"},"mark":{"type":"rule","color":"#111","strokeWidth":1.5},"encoding":{"x":{"datum":50,"type":"quantitative","axis":null,"scale":{"domain":[50,500],"range":[666.5,1080.5],"nice":false,"zero":false}},"x2":{"datum":500},"y":{"datum":6,"type":"quantitative","axis":null,"scale":{"domain":[0,6.0945],"range":[625,870],"nice":false,"zero":false}}}},
{"data":{"name":"one"},"mark":{"type":"rule","color":"#111","strokeWidth":1.5},"encoding":{"x":{"datum":50,"type":"quantitative","axis":null,"scale":{"domain":[50,500],"range":[666.5,1080.5],"nice":false,"zero":false}},"y":{"datum":4,"type":"quantitative","axis":null,"scale":{"domain":[0,6.0945],"range":[625,870],"nice":false,"zero":false}},"y2":{"datum":6.0945}}},
{"data":{"name":"htext"},"transform":[{"filter":"datum.s == 'GR'"}],"mark":{"type":"text","fontSize":22,"color":"#2a2a2a","baseline":"middle","align":{"expr":"datum.p == 'lo' ? 'left' : datum.p == 'hi' ? 'right' : 'center'"},"dx":{"expr":"datum.p == 'lo' ? 6 : datum.p == 'hi' ? -7 : 0"}},"encoding":{"x":{"field":"v","type":"quantitative","axis":null,"scale":{"domain":[0,150],"range":[7.5,467.5],"nice":false,"zero":false}},"y":{"field":"row","type":"quantitative","axis":null,"scale":{"domain":[0,6.0945],"range":[625,870],"nice":false,"zero":false}},"text":{"field":"t","type":"nominal"}}},
{"data":{"name":"htext"},"transform":[{"filter":"datum.s == 'SP'"}],"mark":{"type":"text","fontSize":22,"color":"#2a2a2a","baseline":"middle","align":{"expr":"datum.p == 'lo' ? 'left' : datum.p == 'hi' ? 'right' : 'center'"},"dx":{"expr":"datum.p == 'lo' ? 6 : datum.p == 'hi' ? -7 : 0"}},"encoding":{"x":{"field":"v","type":"quantitative","axis":null,"scale":{"domain":[-200,0],"range":[7.5,467.5],"nice":false,"zero":false}},"y":{"field":"row","type":"quantitative","axis":null,"scale":{"domain":[0,6.0945],"range":[625,870],"nice":false,"zero":false}},"text":{"field":"t","type":"nominal"}}},
{"data":{"name":"htext"},"transform":[{"filter":"datum.s == 'CILD'"}],"mark":{"type":"text","fontSize":22,"color":"#2a2a2a","baseline":"middle","align":{"expr":"datum.p == 'lo' ? 'left' : datum.p == 'hi' ? 'right' : 'center'"},"dx":{"expr":"datum.p == 'lo' ? 7 : datum.p == 'hi' ? -8 : 0"}},"encoding":{"x":{"field":"v","type":"quantitative","axis":null,"scale":{"domain":[1000,0],"range":[620.5,1540.5],"nice":false,"zero":false}},"y":{"field":"row","type":"quantitative","axis":null,"scale":{"domain":[0,6.0945],"range":[625,870],"nice":false,"zero":false}},"text":{"field":"t","type":"nominal"}}},
{"data":{"name":"htext"},"transform":[{"filter":"datum.s == 'LTEN'"}],"mark":{"type":"text","fontSize":22,"color":"#2a2a2a","baseline":"middle","align":{"expr":"datum.p == 'lo' ? 'left' : datum.p == 'hi' ? 'right' : 'center'"},"dx":{"expr":"datum.p == 'lo' ? 7 : datum.p == 'hi' ? -8 : 0"}},"encoding":{"x":{"field":"v","type":"quantitative","axis":null,"scale":{"domain":[10000,0],"range":[620.5,1540.5],"nice":false,"zero":false}},"y":{"field":"row","type":"quantitative","axis":null,"scale":{"domain":[0,6.0945],"range":[625,870],"nice":false,"zero":false}},"text":{"field":"t","type":"nominal"}}},
{"data":{"name":"htext"},"transform":[{"filter":"datum.s == 'R'"}],"mark":{"type":"text","fontSize":22,"color":"#2a2a2a","baseline":"middle","align":{"expr":"datum.p == 'lo' ? 'left' : datum.p == 'hi' ? 'right' : 'center'"},"dx":{"expr":"datum.p == 'lo' ? 7 : datum.p == 'hi' ? -8 : 0"}},"encoding":{"x":{"field":"v","type":"quantitative","axis":null,"scale":{"domain":[0,50],"range":[620.5,1080.5],"nice":false,"zero":false}},"y":{"field":"row","type":"quantitative","axis":null,"scale":{"domain":[0,6.0945],"range":[625,870],"nice":false,"zero":false}},"text":{"field":"t","type":"nominal"}}},
{"data":{"name":"htext"},"transform":[{"filter":"datum.s == 'R10'"}],"mark":{"type":"text","fontSize":22,"color":"#2a2a2a","baseline":"middle","align":{"expr":"datum.p == 'lo' ? 'left' : datum.p == 'hi' ? 'right' : 'center'"},"dx":{"expr":"datum.p == 'lo' ? 6 : datum.p == 'hi' ? -8 : 0"}},"encoding":{"x":{"field":"v","type":"quantitative","axis":null,"scale":{"domain":[50,500],"range":[666.5,1080.5],"nice":false,"zero":false}},"y":{"field":"row","type":"quantitative","axis":null,"scale":{"domain":[0,6.0945],"range":[625,870],"nice":false,"zero":false}},"text":{"field":"t","type":"nominal"}}}
],
"resolve":{"scale":{"x":"independent","y":"independent"}}
}
